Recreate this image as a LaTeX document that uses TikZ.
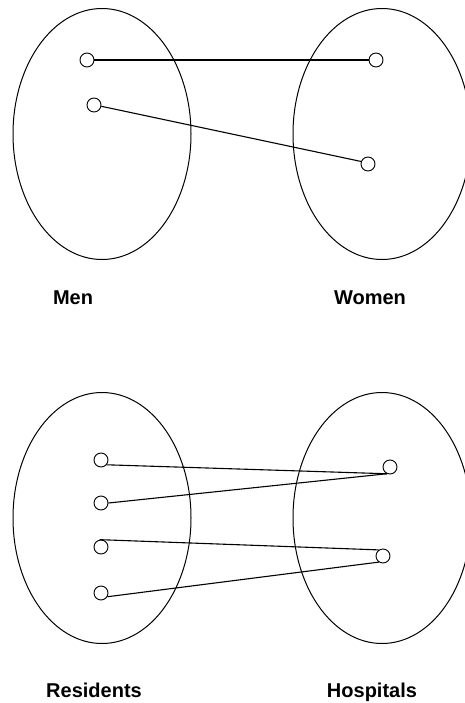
\documentclass[tikz,border=0pt]{standalone}
\usepackage{fontspec}
\setmainfont{Liberation Sans}
\usetikzlibrary{positioning, shapes.geometric}

\begin{document}
\begin{tikzpicture}[
    x=1pt, y=-1pt,
    set/.style={draw, ellipse, line width=1pt, minimum width=178pt, minimum height=251pt, inner sep=0pt},
    dot/.style={draw, circle, line width=0.9pt, minimum size=14pt, inner sep=0pt},
    link/.style={line width=1.1pt},
    lbl/.style={anchor=base, inner sep=0pt, font=\fontsize{20}{23}\selectfont\bfseries}
]
    \useasboundingbox (0,0) rectangle (465,703);

    % stable marriage
    \node[set] (men) at (102,134) {};
    \node[set] (women) at (382,134) {};
    \node[dot] (m1) at (87,60) {};
    \node[dot] (m2) at (94,105) {};
    \node[dot] (w1) at (376,60) {};
    \node[dot] (w2) at (368,164) {};
    \draw[link] (m1) -- (w1);
    \draw[link] (m2.-10) -- (w2.160);
    \node[lbl] (menlbl) at (73,304) {Men};
    \node[lbl] (womenlbl) at (370,304) {Women};

    % residents and hospitals
    \node[set] (res) at (102,518) {};
    \node[set] (hos) at (382,518) {};
    \node[dot] (r1) at (101,460) {};
    \node[dot] (r2) at (101,503) {};
    \node[dot] (r3) at (101,547) {};
    \node[dot] (r4) at (101,593) {};
    \node[dot] (h1) at (390,467) {};
    \node[dot] (h2) at (383,556) {};
    \draw[link] (r1.-40) -- (h1.-115);
    \draw[link] (r2.east) -- (h1.-115);
    \draw[link] (r3.100) -- (h2.125);
    \draw[link] (r4.-30) -- (h2.-125);
    \node[lbl] (reslbl) at (94,697) {Residents};
    \node[lbl] (hoslbl) at (372,697) {Hospitals};
\end{tikzpicture}
\end{document}
